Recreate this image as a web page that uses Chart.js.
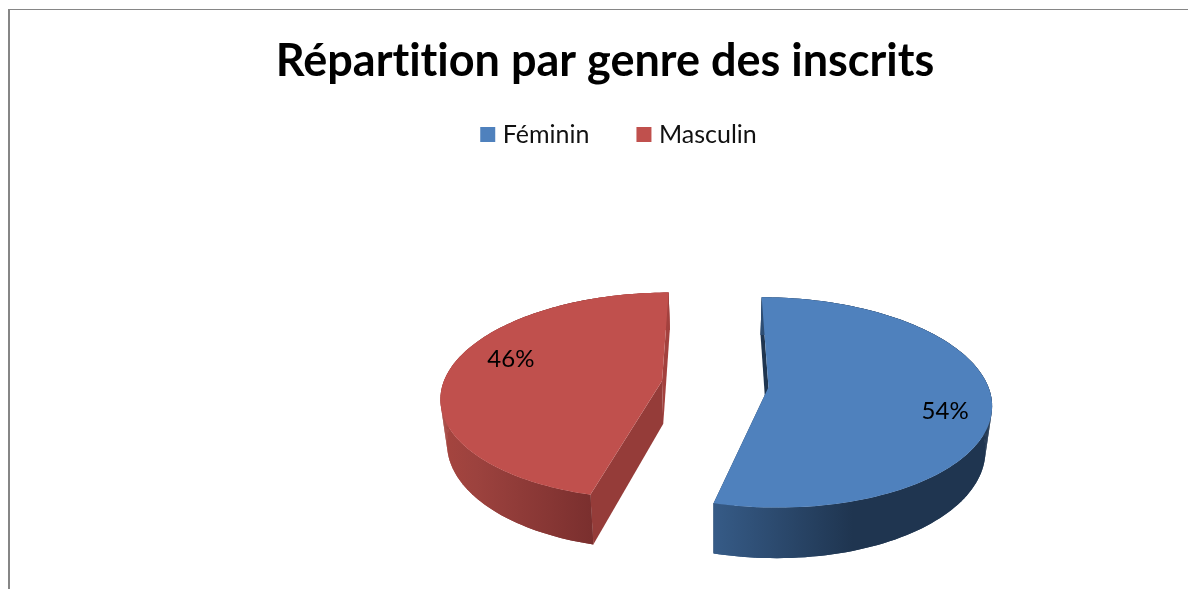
<!DOCTYPE html>
<html lang="fr">

<head>
  <meta charset="UTF-8">
  <title>Répartition par genre des inscrits</title>
  <script src="https://cdn.jsdelivr.net/npm/chart.js@4"></script>
  <style>
    html,
    body {
      margin: 0;
      height: 100%;
      background: #fff;
      overflow: hidden;
    }

    .frame {
      position: absolute;
      left: 8px;
      top: 9px;
      width: 1190px;
      height: 600px;
      border-left: 2px solid #868686;
      border-top: 1px solid #868686;
    }
  </style>
</head>

<body>
  <div class="frame">
    <canvas id="chart"></canvas>
  </div>

  <script>
    const chartTitle = 'Répartition par genre des inscrits';
    const genres = ['Féminin', 'Masculin'];
    const shares = [54, 46];
    const topColors = ['#4f81bd', '#c0504d'];
    const cutColors = ['#1f3550', '#953c39'];
    const backColors = ['#1f3550', '#a3413e'];
    const wallStops = [
      [[0, '#365b87'], [0.5, '#1f3550'], [1, '#1f3550']],
      [[0, '#a6453f'], [0.16, '#9c423e'], [0.67, '#7a2f2e'], [0.671, '#a3413e'], [1, '#a3413e']]
    ];
    const textFont = 'Lato, Carlito, sans-serif';

    // the flat pie is tilted by hand, Chart.js only knows about a circle
    // cx, cy are canvas pixels, the canvas sits 10px in from the page corner
    const view = { cx: 705, cy: 374, sx: 219, sy: 102, depth: 0.145, wall: 43, vanish: 0.024 };

    function project(el, x, y) {
      const u = (x - el.x) / el.outerRadius;
      const v = (y - el.y) / el.outerRadius;
      const w = 1 - view.depth * v;
      return { x: view.cx + view.sx * u / w, y: view.cy + view.sy * v / w, w };
    }

    function drop(p) {
      return {
        x: p.x + (view.cx - p.x) * view.vanish,
        y: p.y + view.wall / p.w
      };
    }

    function polygon(ctx, pts, fill) {
      ctx.beginPath();
      pts.forEach((p, i) => i ? ctx.lineTo(p.x, p.y) : ctx.moveTo(p.x, p.y));
      ctx.closePath();
      ctx.fillStyle = fill;
      ctx.fill();
    }

    function outline(el) {
      const mid = (el.startAngle + el.endAngle) / 2;
      const ox = el.x + Math.cos(mid) * el.options.offset;
      const oy = el.y + Math.sin(mid) * el.options.offset;
      const rim = [];
      for (let i = 0; i <= 120; i++) {
        const a = el.startAngle + (el.endAngle - el.startAngle) * i / 120;
        rim.push(project(el, ox + Math.cos(a) * el.outerRadius, oy + Math.sin(a) * el.outerRadius));
      }
      return { apex: project(el, ox, oy), rim, ox, oy, mid };
    }

    const pie3d = {
      id: 'pie3d',
      afterLayout(chart) {
        // legend sits higher and a little right of where the layout puts it
        chart.legend.left += 16;
        chart.legend.right += 16;
        chart.legend.top -= 36;
        chart.legend.bottom -= 36;
      },
      beforeDraw(chart) {
        // no "ti" ligature in the title
        chart.ctx.textRendering = 'optimizeSpeed';
      },
      beforeDatasetDraw(chart, args) {
        const ctx = chart.ctx;
        args.meta.data.forEach((el, i) => {
          const { apex, rim } = outline(el);
          const first = rim[0];
          const last = rim[rim.length - 1];
          const backEdge = i ? last : first;
          const frontEdge = i ? first : last;
          polygon(ctx, [apex, backEdge, drop(backEdge), drop(apex)], backColors[i]);
          polygon(ctx, [apex, frontEdge, drop(frontEdge), drop(apex)], cutColors[i]);

          const xs = rim.map(p => p.x);
          const grad = ctx.createLinearGradient(Math.min(...xs), 0, Math.max(...xs), 0);
          wallStops[i].forEach(s => grad.addColorStop(s[0], s[1]));
          // quads so the silhouette follows the ruled wall, band on top hides their seams
          for (let k = 0; k < rim.length - 1; k++) {
            polygon(ctx, [rim[k], rim[k + 1], drop(rim[k + 1]), drop(rim[k])], grad);
          }
          polygon(ctx, rim.concat(rim.map(drop).reverse()), grad);

          polygon(ctx, [apex].concat(rim), topColors[i]);
        });
        ctx.save();
        ctx.fillStyle = '#000';
        ctx.font = '24px ' + textFont;
        ctx.textAlign = 'center';
        ctx.textBaseline = 'middle';
        args.meta.data.forEach((el, i) => {
          const { ox, oy, mid } = outline(el);
          const a = mid + 0.166;
          const p = project(el, ox + Math.cos(a) * el.outerRadius * 0.78, oy + Math.sin(a) * el.outerRadius * 0.78);
          ctx.fillText(shares[i] + '%', p.x + 5, p.y);
        });
        ctx.restore();
        return false;
      }
    };

    new Chart(document.getElementById('chart'), {
      type: 'pie',
      data: {
        labels: genres,
        datasets: [{
          data: shares,
          backgroundColor: topColors,
          borderWidth: 0,
          offset: 49
        }]
      },
      options: {
        responsive: true,
        maintainAspectRatio: false,
        animation: false,
        radius: 200,
        plugins: {
          title: {
            display: true,
            text: chartTitle,
            color: '#000',
            font: { family: textFont, size: 45, weight: 'bold' },
            padding: { top: 24, bottom: 18 }
          },
          legend: {
            position: 'top',
            labels: {
              color: '#111',
              font: { family: textFont, size: 25 },
              usePointStyle: true,
              pointStyle: 'rect',
              boxWidth: 5,
              boxHeight: 15,
              padding: 52
            }
          },
          tooltip: { enabled: false }
        }
      },
      plugins: [pie3d]
    });
  </script>
</body>

</html>
